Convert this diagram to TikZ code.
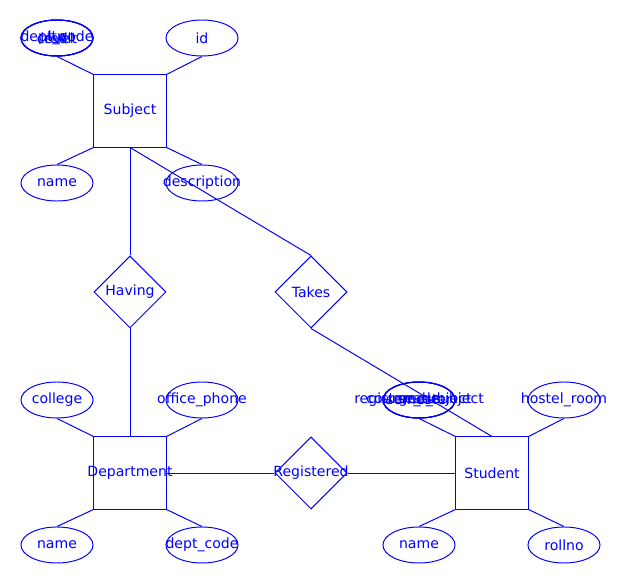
\documentclass[tikz,border=0pt]{standalone}
\usepackage{fontspec}
\setmainfont{DejaVu Sans}
\usetikzlibrary{shapes.geometric}
\definecolor{erblue}{RGB}{0, 0, 255}
\newcommand{\erlabel}[1]{\makebox[0pt]{#1}}

\begin{document}
\begin{tikzpicture}[
  x=0.025cm, y=-0.025cm,
  line width=0.7pt,
  entity/.style={draw=erblue, rectangle, minimum size=1.8cm, inner sep=0pt, text=erblue, font=\fontsize{10}{12}\selectfont},
  attr/.style={draw=erblue, ellipse, minimum width=1.8cm, minimum height=0.9cm, inner sep=0pt, text=erblue, font=\fontsize{10}{12}\selectfont},
  rel/.style={draw=erblue, diamond, minimum size=1.8cm, inner sep=0pt, text=erblue, font=\fontsize{10}{12}\selectfont},
  link/.style={draw=erblue}
]
  \useasboundingbox (0,0) rectangle (621,584);

  % entities
  \node[entity] (subject) at (130,111) {\erlabel{Subject}};
  \node[entity] (dept) at (130,473) {\erlabel{Department}};
  \node[entity] (student) at (492,473) {\erlabel{Student}};

  % relationships
  \node[rel] (having) at (130,292) {\erlabel{Having}};
  \node[rel] (takes) at (311,292) {\erlabel{Takes}};
  \node[rel] (registered) at (311,473) {\erlabel{Registered}};

  % subject attributes
  \node[attr] (subcode) at (57,38) {\erlabel{dept\_code}};
  \node[attr] (sublevel) at (57,38) {\erlabel{level}};
  \node[attr] (subltp) at (57,38) {\erlabel{ltp}};
  \node[attr] (subcredit) at (57,38) {\erlabel{credit}};
  \node[attr] (subid) at (202,38) {\erlabel{id}};
  \node[attr] (subname) at (57,183) {\erlabel{name}};
  \node[attr] (subdesc) at (202,183) {\erlabel{description}};

  % department attributes
  \node[attr] (deptcollege) at (57,400) {\erlabel{college}};
  \node[attr] (deptphone) at (202,400) {\erlabel{office\_phone}};
  \node[attr] (deptname) at (57,545) {\erlabel{name}};
  \node[attr] (deptcode) at (202,545) {\erlabel{dept\_code}};

  % student attributes
  \node[attr] (stucourse) at (419,400) {\erlabel{course\_subject}};
  \node[attr] (stureg) at (419,400) {\erlabel{registered\_subject}};
  \node[attr] (stugrade) at (419,400) {\erlabel{grade}};
  \node[attr] (stusem) at (419,400) {\erlabel{semester}};
  \node[attr] (stuhostel) at (564,400) {\erlabel{hostel\_room}};
  \node[attr] (stuname) at (419,545) {\erlabel{name}};
  \node[attr] (sturoll) at (564,545) {\erlabel{rollno}};

  % attribute links
  \draw[link] (subject.north west) -- (subcode.south);
  \draw[link] (subject.north east) -- (subid.south);
  \draw[link] (subject.south west) -- (subname.north);
  \draw[link] (subject.south east) -- (subdesc.north);
  \draw[link] (dept.north west) -- (deptcollege.south);
  \draw[link] (dept.north east) -- (deptphone.south);
  \draw[link] (dept.south west) -- (deptname.north);
  \draw[link] (dept.south east) -- (deptcode.north);
  \draw[link] (student.north west) -- (stureg.south);
  \draw[link] (student.north east) -- (stuhostel.south);
  \draw[link] (student.south west) -- (stuname.north);
  \draw[link] (student.south east) -- (sturoll.north);

  % relationship links
  \draw[link] (subject.south) -- (having.north);
  \draw[link] (having.south) -- (dept.north);
  \draw[link] (subject.south) -- (takes.north);
  \draw[link] (takes.south) -- (student.north);
  \draw[link] (dept.east) -- (registered.west);
  \draw[link] (registered.east) -- (student.west);
\end{tikzpicture}
\end{document}
